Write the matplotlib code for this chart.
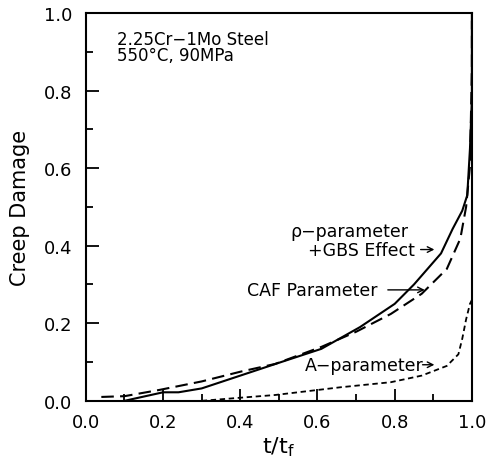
import matplotlib.pyplot as plt
from matplotlib.ticker import MultipleLocator

# rho-parameter + GBS effect (solid)
rho_x = [0.10, 0.20, 0.24, 0.30, 0.40, 0.50, 0.61, 0.71, 0.80, 0.85, 0.92, 0.95, 0.975, 0.988, 0.995, 1.0, 1.0]
rho_y = [0.0, 0.022, 0.022, 0.032, 0.065, 0.098, 0.134, 0.19, 0.25, 0.30, 0.38, 0.443, 0.49, 0.53, 0.65, 0.78, 1.0]

# CAF parameter (dashed)
caf_x = [0.04, 0.10, 0.19, 0.30, 0.40, 0.49, 0.61, 0.70, 0.79, 0.87, 0.935, 0.97, 0.985, 0.995, 1.0, 1.0]
caf_y = [0.01, 0.012, 0.028, 0.05, 0.075, 0.095, 0.139, 0.178, 0.224, 0.276, 0.34, 0.418, 0.50, 0.605, 0.86, 0.98]

# A-parameter (short dashed)
a_x = [0.30, 0.40, 0.49, 0.66, 0.79, 0.87, 0.935, 0.965, 0.975, 0.985, 0.995, 1.0]
a_y = [0.0, 0.008, 0.015, 0.035, 0.048, 0.065, 0.09, 0.12, 0.16, 0.21, 0.25, 0.26]

fig = plt.figure(figsize=(4.88, 4.64), dpi=100)
ax = fig.add_axes([0.176, 0.134, 0.791, 0.836])

ax.plot(rho_x, rho_y, color="black", linewidth=1.5)
ax.plot(caf_x, caf_y, color="black", linewidth=1.5, dashes=(6, 3))
ax.plot(a_x, a_y, color="black", linewidth=1.3, dashes=(3, 2))

ax.set_xlim(0, 1)
ax.set_ylim(0, 1)
ax.xaxis.set_major_locator(MultipleLocator(0.2))
ax.xaxis.set_minor_locator(MultipleLocator(0.1))
ax.yaxis.set_major_locator(MultipleLocator(0.2))
ax.yaxis.set_minor_locator(MultipleLocator(0.1))
ax.xaxis.set_major_formatter(lambda v, p: f"{v:.1f}")
ax.yaxis.set_major_formatter(lambda v, p: f"{v:.1f}")
ax.tick_params(which="both", direction="in", top=False, right=False, labelsize=13, width=1.3)
ax.tick_params(axis="x", which="major", length=9, pad=9)
ax.tick_params(axis="y", which="major", length=9, pad=10)
ax.tick_params(which="minor", length=5)
for s in ax.spines.values():
    s.set_linewidth(1.5)

ax.set_xlabel(r"t/t$_\mathregular{f}$", fontsize=16, labelpad=2)
ax.set_ylabel("Creep Damage", fontsize=15, labelpad=10)

ax.text(0.08, 0.955, "2.25Cr\u22121Mo Steel\n550\u00b0C, 90MPa", transform=ax.transAxes,
        fontsize=12, va="top", ha="left", linespacing=0.85)

ann = dict(fontsize=12.5, ha="left", va="center")
arrow = dict(arrowstyle="->", color="black", lw=1)

ax.text(0.53, 0.438, "\u03c1\u2212parameter", **ann)
ax.text(0.575, 0.39, "+GBS Effect", **ann)
ax.annotate("", xy=(0.91, 0.39), xytext=(0.86, 0.39), arrowprops=arrow)

ax.text(0.418, 0.286, "CAF Parameter", **ann)
ax.annotate("", xy=(0.885, 0.286), xytext=(0.775, 0.286), arrowprops=arrow)

ax.text(0.567, 0.093, "A\u2212parameter", **ann)
ax.annotate("", xy=(0.91, 0.093), xytext=(0.865, 0.093), arrowprops=arrow)

fig.savefig("out.png", dpi=100)
